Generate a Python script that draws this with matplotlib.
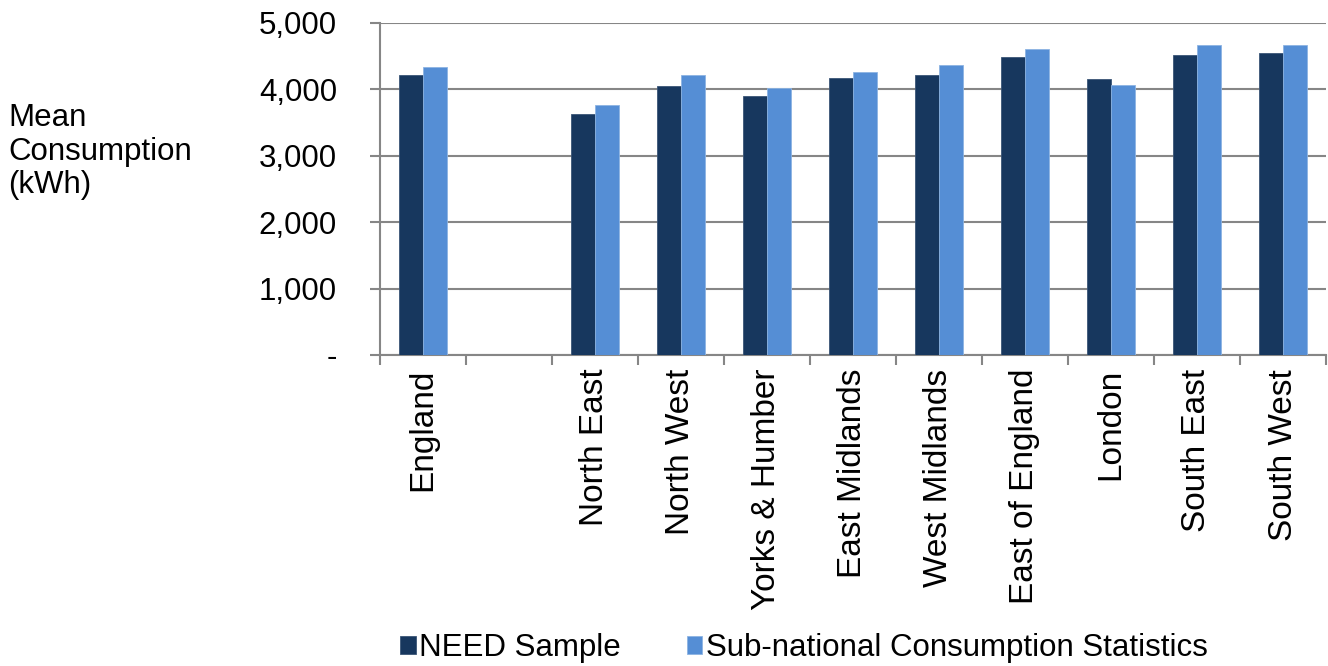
import matplotlib
matplotlib.use('Agg')
import matplotlib.pyplot as plt
import numpy as np
from matplotlib.ticker import FuncFormatter

# data (kWh)
regions = ['England', '', 'North East', 'North West', 'Yorks & Humber', 'East Midlands',
           'West Midlands', 'East of England', 'London', 'South East', 'South West']
need_sample = [4215, np.nan, 3620, 4040, 3890, 4160, 4215, 4485, 4155, 4515, 4545]
subnational = [4335, np.nan, 3765, 4215, 4010, 4250, 4365, 4605, 4065, 4665, 4665]
series_names = ['NEED Sample', 'Sub-national Consumption Statistics']
yticks = [0, 1000, 2000, 3000, 4000, 5000]

plt.rcParams['font.family'] = ['Liberation Sans', 'DejaVu Sans']
grey = '#868686'
hsize = 22.5   # horizontal text
vsize = 24     # rotated category labels

fig = plt.figure(figsize=(13.28, 6.66), dpi=100)
ax = fig.add_axes([0.2861, 0.467, 0.9985 - 0.2861, 0.966 - 0.467])

x = np.arange(len(regions))
w = 0.278
ax.bar(x - w / 2, need_sample, w, color='#17375E', edgecolor='#3a5577', linewidth=0.6,
       label=series_names[0], zorder=3)
ax.bar(x + w / 2, subnational, w, color='#558ED5', edgecolor='#8db4e3', linewidth=0.6,
       label=series_names[1], zorder=3)

ax.set_xlim(-0.5, len(regions) - 0.5)
ax.set_ylim(0, 5000)
ax.set_yticks(yticks)
ax.yaxis.set_major_formatter(FuncFormatter(lambda v, p: '-' if v == 0 else f'{int(v):,}'))
ax.yaxis.grid(True, color=grey, linewidth=1.5, zorder=0)

ax.set_xticks(np.arange(len(regions) + 1) - 0.5, minor=False)
ax.set_xticklabels([])
ax.set_xticks(x, minor=True)
ax.set_xticklabels(regions, minor=True, rotation=90, fontsize=vsize)
ax.tick_params(axis='x', which='minor', length=0, pad=10)
ax.tick_params(axis='x', which='major', length=7, width=1.5, color=grey, direction='out')
ax.tick_params(axis='y', length=7, width=1.5, color=grey, direction='out', labelsize=hsize, pad=24)

for s in ['top', 'right']:
    ax.spines[s].set_visible(False)
for s in ['left', 'bottom']:
    ax.spines[s].set_color(grey)
    ax.spines[s].set_linewidth(1.5)

fig.text(8 / 1328, 0.772, 'Mean\nConsumption\n(kWh)', fontsize=hsize, ha='left', va='center',
         linespacing=1.15)

fig.legend(loc='center', bbox_to_anchor=(804 / 1328, 1 - 648 / 666), ncol=2, frameon=False,
           fontsize=hsize, handlelength=0.5, handleheight=0.5, handletextpad=0.12,
           columnspacing=2.1)

fig.savefig('out.png', dpi=100)
